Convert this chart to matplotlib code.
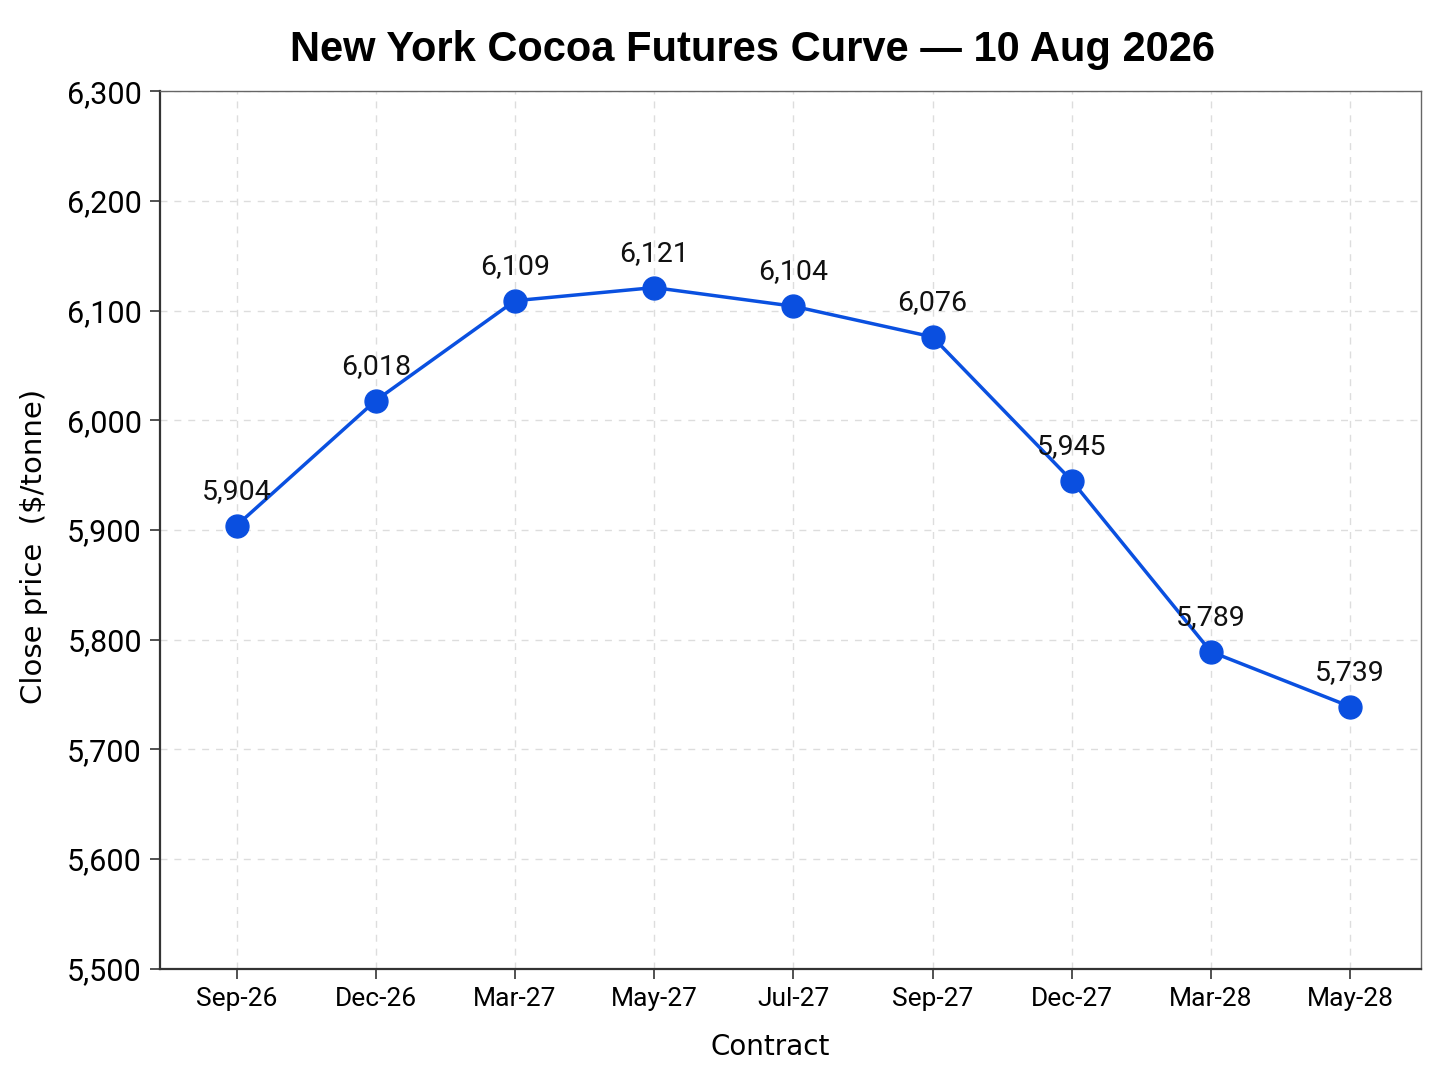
import matplotlib
matplotlib.use("Agg")
import matplotlib.pyplot as plt
from matplotlib.ticker import FuncFormatter

# contract months and settlement prices
contracts = ["Sep-26", "Dec-26", "Mar-27", "May-27", "Jul-27",
             "Sep-27", "Dec-27", "Mar-28", "May-28"]
close_price = [5904, 6018, 6109, 6121, 6104, 6076, 5945, 5789, 5739]

narrow = ["Roboto", "DejaVu Sans"]

fig = plt.figure(figsize=(14.48, 10.86), dpi=100)
ax = fig.add_axes([0.1105, 0.108, 0.8709, 0.808])

x = list(range(len(contracts)))
ax.plot(x, close_price, color="#0a50e0", linewidth=2.5, marker="o",
        markersize=16.5, markerfacecolor="#0a4fe0", markeredgecolor="#0a4fe0", zorder=3)

for xi, v in zip(x, close_price):
    ax.annotate(f"{v:,}", (xi, v), xytext=(0, 15), textcoords="offset points",
                ha="center", va="bottom", fontsize=20.5, family=narrow, color="#111111")

ax.set_xlim(-0.55, 8.51)
ax.set_ylim(5500, 6300)
ax.set_yticks(range(5500, 6301, 100))
ax.yaxis.set_major_formatter(FuncFormatter(lambda v, _: f"{int(v):,}"))
ax.set_xticks(x)
ax.set_xticklabels(contracts)

for lab in ax.get_yticklabels():
    lab.set_family(narrow)
    lab.set_fontsize(22)
for lab in ax.get_xticklabels():
    lab.set_family(narrow)
    lab.set_fontsize(19)

ax.tick_params(axis="both", length=7, width=1.2, color="#333333", pad=6)
ax.grid(True, linestyle=(0, (5, 5)), color="#dddddd", linewidth=1)
ax.set_axisbelow(True)

for side in ["left", "bottom"]:
    ax.spines[side].set_color("#333333")
    ax.spines[side].set_linewidth(1.6)
for side in ["top", "right"]:
    ax.spines[side].set_color("#666666")
    ax.spines[side].set_linewidth(1.0)

ax.set_xlabel("Contract", fontsize=20, family=["DejaVu Sans"], labelpad=16, x=0.484)
ax.set_ylabel("Close price  ($/tonne)", fontsize=21, family=["DejaVu Sans"], labelpad=14, y=0.481)
ax.set_title("New York Cocoa Futures Curve \u2014 10 Aug 2026", fontsize=30,
             fontweight="bold", family=["Liberation Sans", "DejaVu Sans"], pad=22, x=0.47)

fig.savefig("out.png", dpi=100, facecolor="white")
